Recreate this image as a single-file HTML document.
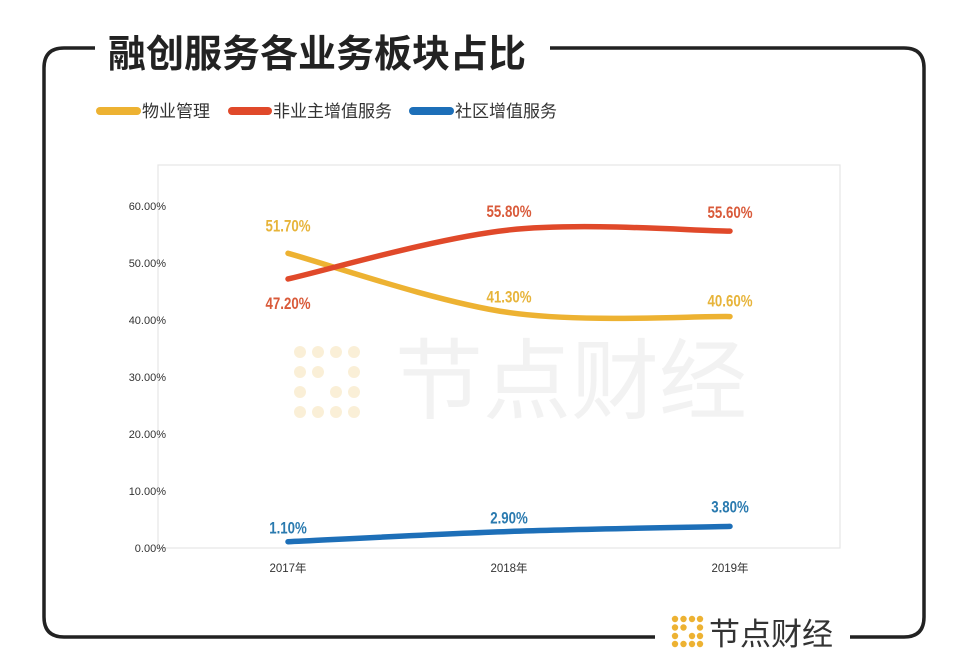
<!DOCTYPE html>
<html><head><meta charset="utf-8"><style>
body{margin:0;background:#fff;}
svg{display:block;font-family:"Liberation Sans","Noto Sans CJK SC",sans-serif;}
</style></head><body>
<svg id="c" width="972" height="670" viewBox="0 0 972 670">
<path d="M95 48 H64 Q44 48 44 68 V617 Q44 637 64 637 H655" fill="none" stroke="#222" stroke-width="3.5"/>
<path d="M550 48 H904 Q924 48 924 68 V617 Q924 637 904 637 H850" fill="none" stroke="#222" stroke-width="3.5"/>
<text x="108" y="67" font-size="38" font-weight="bold" fill="#222" font-family="'Noto Sans CJK SC',sans-serif">融创服务各业务板块占比</text>
<g font-size="17" fill="#333" font-family="'Noto Sans CJK SC',sans-serif">
<line x1="100" y1="111" x2="137" y2="111" stroke="#EDB232" stroke-width="8" stroke-linecap="round"/>
<text x="142" y="117">物业管理</text>
<line x1="232" y1="111" x2="268" y2="111" stroke="#E0492A" stroke-width="8" stroke-linecap="round"/>
<text x="273" y="117">非业主增值服务</text>
<line x1="413" y1="111" x2="450" y2="111" stroke="#1D6FB8" stroke-width="8" stroke-linecap="round"/>
<text x="455" y="117">社区增值服务</text>
</g>
<rect x="158" y="165" width="682" height="383" fill="none" stroke="#e6e6e6" stroke-width="1.2"/>
<g opacity="0.55">
<g fill="#f6e3b8">
<circle cx="300" cy="352" r="6"/><circle cx="318" cy="352" r="6"/><circle cx="336" cy="352" r="6"/><circle cx="354" cy="352" r="6"/>
<circle cx="300" cy="372" r="6"/><circle cx="318" cy="372" r="6"/><circle cx="354" cy="372" r="6"/>
<circle cx="300" cy="392" r="6"/><circle cx="336" cy="392" r="6"/><circle cx="354" cy="392" r="6"/>
<circle cx="300" cy="412" r="6"/><circle cx="318" cy="412" r="6"/><circle cx="336" cy="412" r="6"/><circle cx="354" cy="412" r="6"/>
</g>
<text x="395" y="412" font-size="88" fill="#e8e8e8" font-family="'Noto Sans CJK SC',sans-serif">节点财经</text>
</g>
<g id="ax"></g>
<g id="marks"></g>
<g>
<g fill="#EDB232">
<circle cx="675" cy="619" r="3.2"/><circle cx="683.5" cy="619" r="3.2"/><circle cx="692" cy="619" r="3.2"/><circle cx="700" cy="619" r="3.2"/>
<circle cx="675" cy="627.5" r="3.2"/><circle cx="683.5" cy="627.5" r="3.2"/><circle cx="700" cy="627.5" r="3.2"/>
<circle cx="675" cy="636" r="3.2"/><circle cx="692" cy="636" r="3.2"/><circle cx="700" cy="636" r="3.2"/>
<circle cx="675" cy="644" r="3.2"/><circle cx="683.5" cy="644" r="3.2"/><circle cx="692" cy="644" r="3.2"/><circle cx="700" cy="644" r="3.2"/>
</g>
<text x="709" y="645" font-size="31" fill="#333" font-family="'Noto Sans CJK SC',sans-serif">节点财经</text>
</g>
</svg>
<script>
const categories=["2017年","2018年","2019年"];
const propertyMgmt=[51.7,41.3,40.6];
const nonOwnerVAS=[47.2,55.8,55.6];
const communityVAS=[1.1,2.9,3.8];
const yTicks=[0,10,20,30,40,50,60];
const NS="http://www.w3.org/2000/svg";
const X0=288,X1=730,Y0=548,Y60=206;
function xs(i){return X0+i*(X1-X0)/(categories.length-1);}
function ys(v){return Y0-(Y0-Y60)*v/60;}
function mk(t,a,p){const e=document.createElementNS(NS,t);for(const k in a)e.setAttribute(k,a[k]);p.appendChild(e);return e;}
const ax=document.getElementById('ax'),mg=document.getElementById('marks');
yTicks.forEach(v=>{const t=mk('text',{x:166,y:ys(v)+4,'font-size':11,fill:'#333','text-anchor':'end'},ax);t.textContent=v.toFixed(2)+'%';

});
categories.forEach((c,i)=>{const t=mk('text',{x:xs(i),y:572,'font-size':11.5,fill:'#333','text-anchor':'middle','font-family':"'Liberation Sans','Noto Sans CJK SC',sans-serif"},ax);t.textContent=c;

});
function curve(vals){const p=vals.map((v,i)=>[xs(i),ys(v)]);let d='M'+p[0];
for(let i=0;i<p.length-1;i++){const a=p[i-1]||p[i],b=p[i],c=p[i+1],e=p[i+2]||c;
d+=' C'+(b[0]+(c[0]-a[0])/6)+','+(b[1]+(c[1]-a[1])/6)+' '+(c[0]-(e[0]-b[0])/6)+','+(c[1]-(e[1]-b[1])/6)+' '+c;}return d;}
const series=[[propertyMgmt,'#EDB232','#E7B43A','property-line'],[nonOwnerVAS,'#E0492A','#D95A3A','nonowner-line'],[communityVAS,'#1D6FB8','#2A7AAF','community-line']];
const offs={'property-line':[-28,-16,-16],'nonowner-line':[24,-19,-19],'community-line':[-14,-14,-20]};
series.forEach(([vals,col,tc,name])=>{
const p=mk('path',{d:curve(vals),fill:'none',stroke:col,'stroke-width':5.5,'stroke-linecap':'round'},mg);


vals.forEach((v,i)=>{const t=mk('text',{x:0,y:0,'font-size':17,'font-weight':'bold',fill:tc,'text-anchor':'middle',transform:'translate('+xs(i)+','+(ys(v)+offs[name][i]+6)+') scale(0.78,1)'},mg);
t.textContent=v.toFixed(2)+'%';

});
});
</script>
</body></html>
